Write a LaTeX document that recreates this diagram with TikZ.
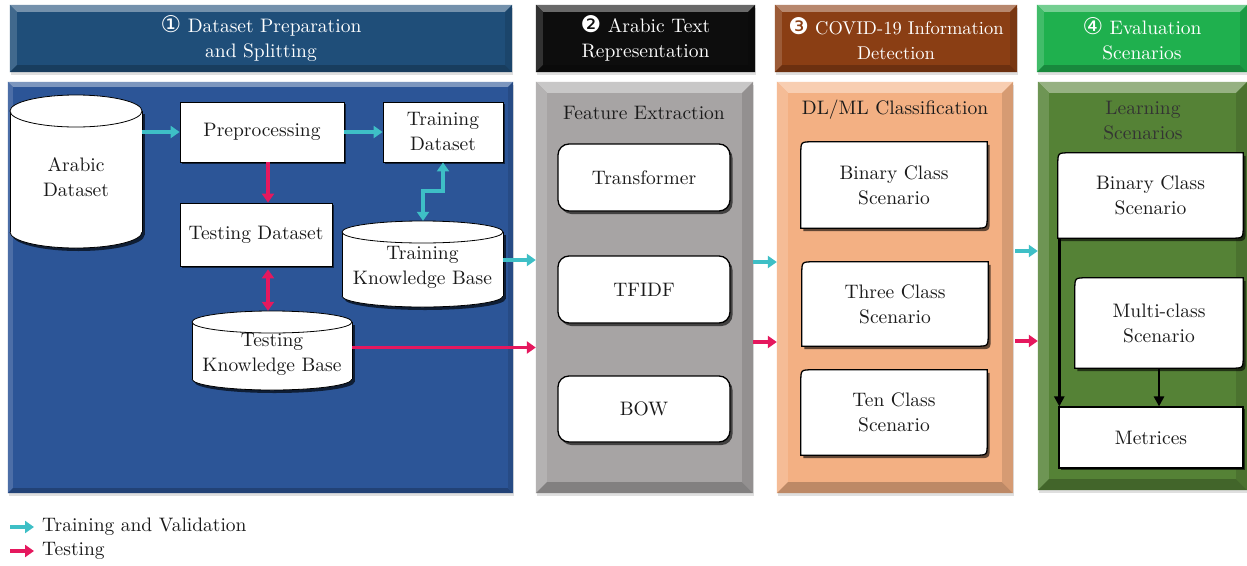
\documentclass[tikz,border=0pt]{standalone}
\usepackage{fontspec}
\setmainfont{lmroman10-regular.otf}
\newfontfamily\dejavu{DejaVu Sans}
\usetikzlibrary{arrows.meta,shadows,calc}

\definecolor{hdrA}{HTML}{1F4E79}
\definecolor{hdrB}{HTML}{0D0D0D}
\definecolor{hdrC}{HTML}{8A3E14}
\definecolor{hdrD}{HTML}{1FB04E}
\definecolor{panA}{HTML}{2C5597}
\definecolor{panB}{HTML}{A7A4A4}
\definecolor{panC}{HTML}{F3B083}
\definecolor{panD}{HTML}{558236}
\definecolor{trainc}{HTML}{3EBFC6}
\definecolor{testc}{HTML}{E5185E}
\definecolor{inkc}{HTML}{1A1A1A}

\tikzset{
  frame/.style={inner sep=0pt, draw=none},
  hdr/.style={inner sep=0pt, align=center, text=white,
    drop shadow={shadow xshift=1pt, shadow yshift=-3pt, opacity=.25}},
  panelbox/.style={inner sep=0pt,
    drop shadow={shadow xshift=1pt, shadow yshift=-3pt, opacity=.25}},
  boxtext/.style={inner sep=0pt, align=center, text=inkc},
  plainbox/.style={draw=black, line width=.8pt, fill=white, inner sep=0pt,
    align=center, text=inkc,
    drop shadow={shadow xshift=2pt, shadow yshift=-2pt, fill=black, opacity=.6}},
  cardline/.style={draw=black, line width=1.3pt, fill=white,
    drop shadow={shadow xshift=2.5pt, shadow yshift=-3pt, fill=black, opacity=.6}},
  cardbox/.style={cardline, rounded corners=11pt, inner sep=0pt, align=center, text=inkc},
  cylline/.style={draw=black, line width=.8pt},
  trainarr/.style={draw=trainc, line width=3.5pt, -{Triangle[length=9pt,width=12pt]}},
  testarr/.style={draw=testc, line width=3.5pt, -{Triangle[length=9pt,width=12pt]}},
  trainboth/.style={draw=trainc, line width=3.5pt,
    {Triangle[length=9pt,width=12pt]}-{Triangle[length=9pt,width=12pt]}},
  testboth/.style={draw=testc, line width=3.5pt,
    {Triangle[length=9pt,width=12pt]}-{Triangle[length=9pt,width=12pt]}},
  flowarr/.style={draw=black, line width=2.5pt, -{Triangle[length=10pt,width=10pt]}},
}

% circled step number
\newcommand\cnum[1]{{\dejavu\fontsize{23}{23}\selectfont #1}}

% bevelled edge of a filled node: node, colour, bevel width
\newcommand\bevel[3]{%
  \fill[#2!62!white] (#1.north west) -- (#1.north east)
    -- ([shift={(-#3,#3)}]#1.north east) -- ([shift={(#3,#3)}]#1.north west) -- cycle;
  \fill[#2!85!white] (#1.north west) -- ([shift={(#3,#3)}]#1.north west)
    -- ([shift={(#3,-#3)}]#1.south west) -- (#1.south west) -- cycle;
  \fill[#2!78!black] (#1.south west) -- ([shift={(#3,-#3)}]#1.south west)
    -- ([shift={(-#3,-#3)}]#1.south east) -- (#1.south east) -- cycle;
  \fill[#2!88!black] (#1.north east) -- (#1.south east)
    -- ([shift={(-#3,-#3)}]#1.south east) -- ([shift={(-#3,#3)}]#1.north east) -- cycle;
}

% database cylinder: name, x1, y1, x2, y2, ellipse half height, text
\newcommand\dbcyl[7]{%
  \pgfmathsetmacro\cylcx{(#2+#4)/2}%
  \pgfmathsetmacro\cylrx{(#4-#2)/2}%
  \begin{scope}[shift={(2.5,3)}]
    \fill[panA!35!black] (#2,#3+#6) rectangle (#4,#5-#6);
    \fill[panA!35!black] (\cylcx,#5-#6) ellipse[x radius=\cylrx pt, y radius=#6pt];
  \end{scope}
  \fill[white] (#2,#3+#6) rectangle (#4,#5-#6);
  \fill[white] (\cylcx,#5-#6) ellipse[x radius=\cylrx pt, y radius=#6pt];
  \draw[cylline] (#2,#3+#6) -- (#2,#5-#6) (#4,#3+#6) -- (#4,#5-#6);
  \begin{scope}
    \clip (#2-3,#5-#6) rectangle (#4+3,#5+3);
    \draw[cylline] (\cylcx,#5-#6) ellipse[x radius=\cylrx pt, y radius=#6pt];
  \end{scope}
  \filldraw[cylline, fill=white] (\cylcx,#3+#6) ellipse[x radius=\cylrx pt, y radius=#6pt];
  \path (\cylcx,{(#3+#5)/2}) node[frame, minimum width={(#4-#2)*1pt},
    minimum height={(#5-#3)*1pt}] (#1) {};
  \node[boxtext] (#1-t) at (\cylcx,{(#3+#6+#5)/2-2}) {#7};
}

% card with two rounded diagonal corners: name, cx, cy, w, h, text
\newcommand\diagcard[6]{%
  \path (#2,#3) node[frame, minimum width=#4pt, minimum height=#5pt] (#1-f) {};
  \path[cardline] (#1-f.south west) -- ([shift={(0,12)}]#1-f.north west)
    .. controls (#1-f.north west) .. ([shift={(12,0)}]#1-f.north west)
    -- (#1-f.north east) -- ([shift={(0,-12)}]#1-f.south east)
    .. controls (#1-f.south east) .. ([shift={(-12,0)}]#1-f.south east) -- cycle;
  \node[boxtext, minimum width=#4pt, minimum height=#5pt] (#1) at (#1-f) {#6};
}

\begin{document}
\begin{tikzpicture}[x=1pt, y=-1pt, font=\fontsize{19.5}{25}\selectfont]
\useasboundingbox (0,0) rectangle (1247,565);
\fill[white] (0,0) rectangle (1247,565);

% ---------- stage headers ----------
\node[hdr, fill=hdrA, minimum width=502pt, minimum height=67pt] (h1) at (261,38.5) {};
\bevel{h1}{hdrA}{7}
\node[boxtext, text=white] (h1-t) at (h1) {\cnum{①} Dataset Preparation\\and Splitting};

\node[hdr, fill=hdrB, minimum width=219pt, minimum height=67pt] (h2) at (645.5,38.5) {};
\bevel{h2}{hdrB}{7}
\node[boxtext, text=white] (h2-t) at (h2) {\cnum{❷} Arabic Text\\Representation};

\node[hdr, fill=hdrC, minimum width=242pt, minimum height=67pt] (h3) at (896,38.5) {};
\bevel{h3}{hdrC}{7}
\node[boxtext, text=white, font=\fontsize{18.5}{25}\selectfont] (h3-t) at (h3) {\cnum{❸} COVID-19 Information\\Detection};

\node[hdr, fill=hdrD, minimum width=210pt, minimum height=67pt] (h4) at (1142,38.5) {};
\bevel{h4}{hdrD}{7}
\node[boxtext, text=white] (h4-t) at (h4) {\cnum{④} Evaluation\\Scenarios};

% ---------- stage panels ----------
\node[panelbox, fill=panA, minimum width=505pt, minimum height=411pt] (p1) at (260.5,287.5) {};
\bevel{p1}{panA}{5}
\node[panelbox, fill=panB, minimum width=217pt, minimum height=411pt] (p2) at (644.5,287.5) {};
\bevel{p2}{panB}{11}
\node[panelbox, fill=panC, minimum width=236pt, minimum height=411pt] (p3) at (895,287.5) {};
\bevel{p3}{panC}{11}
\node[panelbox, fill=panD, minimum width=209pt, minimum height=408pt] (p4) at (1142.5,286) {};
\bevel{p4}{panD}{11}

% ---------- stage 1: dataset preparation ----------
\dbcyl{adb}{10}{95}{142}{248}{16}{Arabic\\Dataset}
\node[plainbox, minimum width=164pt, minimum height=60pt] (pre) at (262,132) {Preprocessing};
\node[plainbox, minimum width=120pt, minimum height=60pt] (trd) at (443,132) {Training\\Dataset};
\node[plainbox, minimum width=152pt, minimum height=63pt] (ted) at (256,234.5) {Testing Dataset};
\dbcyl{tkb}{342}{221}{503}{307}{11}{Training\\Knowledge Base}
\dbcyl{tekb}{192}{311}{352}{390}{11}{Testing\\Knowledge Base}

\draw[trainarr] (pre.west -| adb.east) -- (pre.west);
\draw[trainarr] (pre.east) -- (trd.west);
\coordinate (split) at ([shift={(6,0)}]pre.south);
\draw[testarr] (split) -- (split |- ted.north);
\draw[testboth] ([shift={(0,3)}]split |- ted.south) -- (split |- tekb.north);
\coordinate (elbA) at (423,191);
\coordinate (elbB) at (443,191);
\draw[trainboth] (elbA |- tkb.north) -- (elbA) -- (elbB) -- (trd.south);
\draw[trainarr] ([shift={(0,-4)}]tkb.east) -- ([shift={(0,-4)}]tkb.east -| p2.west);
\draw[testarr] ([shift={(0,-3)}]tekb.east) -- ([shift={(0,-3)}]tekb.east -| p2.west);

% ---------- stage 2: text representation ----------
\node[boxtext] (fe) at (644,113) {Feature Extraction};
\node[cardbox, minimum width=172pt, minimum height=67pt] (trf) at (644,177.5) {Transformer};
\node[cardbox, minimum width=172pt, minimum height=67pt] (tfidf) at (644,289.5) {TFIDF};
\node[cardbox, minimum width=172pt, minimum height=66pt] (bow) at (644,409) {BOW};

\coordinate (rowT) at (0,262);
\coordinate (rowE) at (0,342);
\draw[trainarr] (p2.east |- rowT) -- (p3.west |- rowT);
\draw[testarr] (p2.east |- rowE) -- (p3.west |- rowE);

% ---------- stage 3: detection ----------
\node[boxtext] (cls) at (895,110) {DL/ML Classification};
\diagcard{bin3}{894}{185}{186}{86}{Binary Class\\Scenario}
\diagcard{thr3}{895}{304}{186}{84}{Three Class\\Scenario}
\diagcard{ten3}{894}{412.5}{186}{85}{Ten Class\\Scenario}

\coordinate (rowT2) at (0,251);
\coordinate (rowE2) at (0,341);
\draw[trainarr] ([shift={(2,0)}]p3.east |- rowT2) -- (p4.west |- rowT2);
\draw[testarr] ([shift={(2,0)}]p3.east |- rowE2) -- (p4.west |- rowE2);

% ---------- stage 4: evaluation ----------
\node[boxtext, text=black!80] (lrn) at (1143,120.5) {Learning\\Scenarios};
\diagcard{bin4}{1150.5}{195.5}{185}{85}{Binary Class\\Scenario}
\diagcard{mul4}{1159}{323}{168}{90}{Multi-class\\Scenario}
\node[plainbox, line width=1.2pt, minimum width=184pt, minimum height=61pt] (met) at (1151,437.5) {Metrices};

\coordinate (drop) at ([shift={(1.5,0)}]bin4.south west);
\draw[flowarr] (drop) -- (drop |- met.north);
\draw[flowarr] (mul4.south) -- (mul4.south |- met.north);

% ---------- legend ----------
\node[boxtext, anchor=west] (legT) at (42,527) {Training and Validation};
\node[boxtext, anchor=west] (legE) at (42,551) {Testing};
\coordinate (legTs) at (10,527);
\coordinate (legEs) at (10,551);
\draw[trainarr] (legTs) -- ([shift={(-8,0)}]legT.west);
\draw[testarr] (legEs) -- ([shift={(-8,0)}]legE.west);
\end{tikzpicture}
\end{document}
